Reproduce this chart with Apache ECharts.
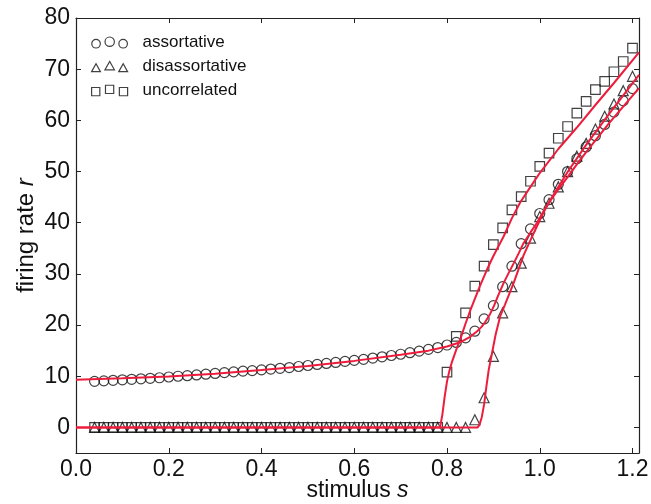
<!DOCTYPE html>
<html>
<head>
<meta charset="utf-8">
<script src="https://cdn.jsdelivr.net/npm/echarts@6/dist/echarts.min.js"></script>
<style>html,body{margin:0;padding:0;background:#fff}#c{width:651px;height:504px}</style>
</head>
<body>
<div id="c"></div>
<script>
// ---- data ----
const stimulus = [0.04,0.06,0.08,0.10,0.12,0.14,0.16,0.18,0.20,0.22,
  0.24,0.26,0.28,0.30,0.32,0.34,0.36,0.38,0.40,0.42,
  0.44,0.46,0.48,0.50,0.52,0.54,0.56,0.58,0.60,0.62,
  0.64,0.66,0.68,0.70,0.72,0.74,0.76,0.78,0.80,0.82,
  0.84,0.86,0.88,0.90,0.92,0.94,0.96,0.98,1.00,1.02,
  1.04,1.06,1.08,1.10,1.12,1.14,1.16,1.18,1.20];
const assortative = [9.0,9.1,9.2,9.3,9.4,9.5,9.6,9.7,9.85,10.0,
  10.1,10.25,10.4,10.55,10.7,10.85,11.0,11.1,11.25,11.4,
  11.55,11.7,11.9,12.1,12.3,12.5,12.7,12.9,13.1,13.3,
  13.55,13.8,14.05,14.3,14.6,14.9,15.25,15.6,16.1,16.6,
  17.5,18.8,21.2,23.8,27.5,31.5,35.9,38.8,41.8,44.5,
  47.5,50.0,52.5,54.8,57.0,59.2,61.6,63.8,66.2];
const disassortative = [0,0,0,0,0,0,0,0,0,0,
  0,0,0,0,0,0,0,0,0,0,
  0,0,0,0,0,0,0,0,0,0,
  0,0,0,0,0,0,0,0,0,0,
  0,1.5,5.8,13.9,22.4,27.5,32.1,37.0,41.2,43.8,
  47.0,50.0,53.0,55.5,58.3,60.8,63.2,65.8,68.6];
const uncorrelated = [0,0,0,0,0,0,0,0,0,0,
  0,0,0,0,0,0,0,0,0,0,
  0,0,0,0,0,0,0,0,0,0,
  0,0,0,0,0,0,0,0,10.8,17.8,
  22.4,27.6,31.5,35.7,39.0,42.5,45.1,48.1,51.0,53.6,
  56.5,58.8,61.4,63.7,66.0,67.6,69.5,71.5,74.1];

// theory curves (red lines)
const fitAssortS = [0,0.1,0.2,0.3,0.4,0.5,0.6,0.7,0.76,0.80,0.83,0.85,0.865,0.875,0.883,0.892,0.901,0.91,0.922,0.933,0.944,0.955,0.965,0.98,0.994,1.006,1.019,1.04,1.06,1.08,1.1,1.15,1.214];
const fitAssortR = [9.3,9.6,9.95,10.5,11.2,12.0,13.0,14.2,15.0,15.8,16.7,17.7,18.8,19.7,20.7,22.0,23.7,25.7,28.2,30.2,32.1,34.1,36.0,38.1,40.0,41.9,43.8,46.5,48.9,51.4,53.8,59.5,66.3];
const fitDisS = [0,0.866,0.870,0.875,0.880,0.885,0.890,0.897,0.905,0.915,0.925,0.944,0.965,0.98,0.994,1.008,1.023,1.06,1.1,1.15,1.214];
const fitDisR = [0,0,0.5,2.0,4.5,8.0,11.3,14.5,18.2,21.8,24.0,28.3,33.6,36.6,39.3,42.0,44.5,49.9,55.2,61.3,68.9];
const fitUncS = [0,0.785,0.79,0.795,0.80,0.805,0.81,0.82,0.83,0.84,0.85,0.87,0.886,0.90,0.922,0.94,0.958,0.98,1.0,1.04,1.08,1.12,1.16,1.214];
const fitUncR = [0,0,2.5,6.0,9.0,11.0,12.6,15.2,17.6,20.3,22.8,27.4,30.8,33.5,37.3,40.9,44.0,47.0,49.7,54.4,58.6,63.0,67.3,73.3];

const xTicks = [0,0.2,0.4,0.6,0.8,1.0,1.2];
const yTicks = [0,10,20,30,40,50,60,70,80];
const seriesNames = ['assortative','disassortative','uncorrelated'];

// ---- chart ----
const pair = (xs, ys) => xs.map((x, i) => [x, ys[i]]);
const RED = '#ee1c3c';
const INK = '#111';
const FONT = '"Liberation Sans", Arial, Helvetica, sans-serif';

const icons = {
  assortative: 'path://M0,6a4.2,4.2 0 1,0 8.4,0a4.2,4.2 0 1,0 -8.4,0 M13,4a4.6,4.6 0 1,0 9.2,0a4.6,4.6 0 1,0 -9.2,0 M26.6,6a4.2,4.2 0 1,0 8.4,0a4.2,4.2 0 1,0 -8.4,0',
  disassortative: 'path://M0,10L4.3,2.2L8.6,10Z M13,8.2L17.6,0L22.2,8.2Z M26.4,10L30.7,2.2L35,10Z',
  uncorrelated: 'path://M0,2.2h8v8h-8Z M13.5,0h8v8h-8Z M27,2.2h8v8h-8Z'
};

function axisBase(extra) {
  return Object.assign({
    type: 'value',
    axisLine: { show: true, onZero: false, lineStyle: { color: '#222', width: 1.2 } },
    splitLine: { show: false }
  }, extra);
}

const markerStyle = { color: 'rgba(0,0,0,0)', borderColor: INK, borderWidth: 1.2 };

const option = {
  animation: false,
  backgroundColor: '#fff',
  grid: { left: 76, right: 12, top: 18, bottom: 51, containLabel: false, outerBoundsMode: 'none' },
  legend: {
    data: seriesNames.map(n => ({ name: n, icon: icons[n] })),
    orient: 'vertical',
    left: 86, top: 29,
    itemWidth: 36, itemHeight: 11, itemGap: 7,
    itemStyle: { borderWidth: 1.2, borderColor: INK, color: 'rgba(0,0,0,0)' },
    textStyle: { fontFamily: FONT, fontSize: 17, color: '#111', padding: [0, 0, 0, 10] },
    selectedMode: false
  },
  xAxis: [
    axisBase({
      min: 0, max: 1.214, position: 'bottom',
      name: '{n|stimulus }{i|s}', nameLocation: 'middle', nameGap: 26, nameMoveOverlap: false,
      nameTextStyle: { rich: {
        n: { fontFamily: FONT, fontSize: 23, color: '#111' },
        i: { fontFamily: FONT, fontSize: 23, color: '#111', fontStyle: 'italic' } } },
      axisTick: { show: true, inside: true, length: 5, customValues: xTicks, lineStyle: { color: '#222' } },
      axisLabel: { customValues: xTicks, formatter: v => v.toFixed(1), margin: 5,
        fontFamily: FONT, fontSize: 23, color: '#111' }
    }),
    axisBase({
      min: 0, max: 1.214, position: 'top',
      axisTick: { show: true, inside: true, length: 5, customValues: xTicks, lineStyle: { color: '#222' } },
      axisLabel: { show: false }
    })
  ],
  yAxis: [
    axisBase({
      min: -5, max: 80, position: 'left',
      name: '{n|firing rate }{i|r}', nameLocation: 'middle', nameGap: 38, nameRotate: 90, nameMoveOverlap: false,
      nameTextStyle: { rich: {
        n: { fontFamily: FONT, fontSize: 24, color: '#111' },
        i: { fontFamily: FONT, fontSize: 24, color: '#111', fontStyle: 'italic' } } },
      axisTick: { show: true, inside: true, length: 5, customValues: yTicks, lineStyle: { color: '#222' } },
      axisLabel: { customValues: yTicks, margin: 6, fontFamily: FONT, fontSize: 23, color: '#111' }
    }),
    axisBase({
      min: -5, max: 80, position: 'right',
      axisTick: { show: true, inside: true, length: 5, customValues: yTicks, lineStyle: { color: '#222' } },
      axisLabel: { show: false }
    })
  ],
  series: [
    { name: 'assortative', type: 'scatter', symbol: 'circle', symbolSize: 10,
      itemStyle: markerStyle, data: pair(stimulus, assortative), z: 3 },
    { name: 'disassortative', type: 'scatter', symbol: 'triangle', symbolSize: 10,
      itemStyle: markerStyle, data: pair(stimulus, disassortative), z: 3 },
    { name: 'uncorrelated', type: 'scatter', symbol: 'rect', symbolSize: 9.5,
      itemStyle: markerStyle, data: pair(stimulus, uncorrelated), z: 3 },
    { name: 'assortative theory', type: 'line', showSymbol: false, symbol: 'none',
      lineStyle: { color: RED, width: 2 }, data: pair(fitAssortS, fitAssortR), z: 5 },
    { name: 'disassortative theory', type: 'line', showSymbol: false, symbol: 'none',
      lineStyle: { color: RED, width: 2 }, data: pair(fitDisS, fitDisR), z: 5 },
    { name: 'uncorrelated theory', type: 'line', showSymbol: false, symbol: 'none',
      lineStyle: { color: RED, width: 2 }, data: pair(fitUncS, fitUncR), z: 5 }
  ]
};

const chart = echarts.init(document.getElementById('c'), null, { renderer: 'canvas' });
chart.setOption(option);
</script>
</body>
</html>
